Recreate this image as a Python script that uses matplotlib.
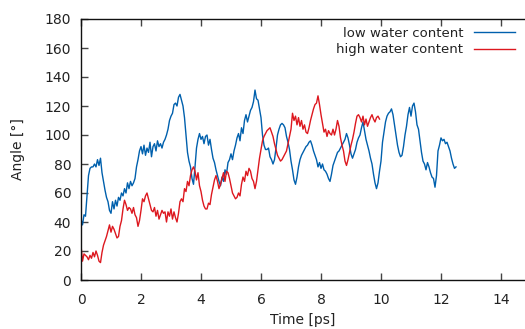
import numpy as np
import matplotlib
matplotlib.use("Agg")
import matplotlib.pyplot as plt

DT = 0.05  # sampling interval in ps

low_water = [
    42, 38, 45, 44, 58, 72, 77, 78, 78, 80, 78, 83, 79, 84, 74, 68, 62, 57, 54, 48,
    46, 54, 49, 55, 51, 57, 55, 60, 58, 63, 60, 67, 63, 68, 65, 67, 70, 78, 83, 89,
    92, 87, 93, 86, 91, 88, 95, 85, 92, 94, 89, 96, 92, 94, 91, 95, 97, 100, 104, 110,
    113, 115, 121, 122, 120, 126, 128, 124, 120, 112, 100, 88, 82, 78, 70, 66, 78, 91, 97, 101,
    97, 99, 94, 99, 100, 93, 97, 90, 84, 81, 76, 72, 68, 65, 71, 68, 76, 73, 81, 83,
    87, 83, 89, 93, 98, 101, 96, 105, 101, 110, 114, 109, 113, 117, 119, 123, 131, 125, 124, 118,
    112, 100, 93, 90, 90, 91, 85, 83, 80, 83, 91, 100, 104, 107, 108, 107, 105, 99, 95, 90,
    82, 76, 69, 66, 71, 78, 83, 86, 88, 90, 92, 93, 95, 96, 93, 89, 86, 83, 78, 81,
    77, 80, 76, 75, 73, 70, 68, 73, 79, 82, 85, 88, 89, 91, 93, 95, 97, 101, 98, 93,
    87, 84, 87, 90, 95, 98, 100, 105, 109, 103, 97, 93, 89, 84, 80, 73, 67, 63, 67, 75,
    82, 95, 102, 109, 113, 115, 116, 118, 114, 107, 100, 93, 88, 85, 86, 92, 100, 106, 114, 119,
    113, 120, 122, 116, 107, 104, 96, 88, 82, 80, 76, 81, 78, 74, 71, 70, 64, 72, 89, 93,
    98, 96, 97, 94, 95, 92, 89, 84, 80, 77, 78,
]

high_water = [
    24, 13, 18, 17, 16, 14, 17, 15, 19, 16, 20, 17, 13, 12, 19, 24, 27, 30, 34, 38,
    33, 37, 35, 32, 29, 30, 37, 41, 49, 55, 52, 48, 50, 49, 46, 50, 45, 43, 37, 41,
    48, 56, 54, 58, 60, 56, 52, 48, 47, 50, 44, 48, 42, 45, 48, 46, 47, 40, 47, 44,
    49, 42, 47, 43, 40, 46, 54, 56, 54, 63, 61, 68, 65, 72, 76, 78, 75, 69, 74, 65,
    61, 55, 51, 49, 49, 53, 52, 59, 64, 69, 72, 68, 63, 66, 70, 74, 68, 75, 74, 70,
    65, 60, 58, 56, 57, 60, 58, 66, 71, 68, 75, 72, 77, 75, 70, 68, 63, 68, 76, 84,
    90, 96, 99, 101, 103, 104, 105, 102, 99, 94, 90, 86, 84, 82, 83, 85, 87, 89, 94, 99,
    104, 115, 110, 113, 107, 112, 106, 110, 104, 107, 102, 101, 105, 110, 114, 118, 121, 122, 127, 121,
    114, 108, 102, 104, 99, 103, 101, 100, 104, 100, 104, 110, 106, 98, 93, 89, 82, 79, 83, 88,
    93, 97, 102, 108, 113, 114, 112, 109, 113, 107, 111, 106, 109, 112, 114, 111, 109, 112, 113, 111,
]

series_labels = ["low water content", "high water content"]
x_ticks = [0, 2, 4, 6, 8, 10, 12, 14]
y_ticks = [0, 20, 40, 60, 80, 100, 120, 140, 160, 180]

t_low = np.arange(len(low_water)) * DT
t_high = np.arange(len(high_water)) * DT

plt.rcParams['font.family'] = ['DejaVu Sans']
fig = plt.figure(figsize=(5.25, 3.29), dpi=100)
ax = fig.add_axes([81 / 525, 1 - 280 / 329, 1 - 81 / 525, (280 - 19) / 329])

ax.plot(t_low, low_water, color='#0060ad', lw=1.0, label=series_labels[0])
ax.plot(t_high, high_water, color='#dd181f', lw=1.0, label=series_labels[1])

ax.set_xlim(0, (525 - 81) / 30)
ax.set_ylim(0, 180)
ax.set_xticks(x_ticks)
ax.set_yticks(y_ticks)
ax.tick_params(axis='both', direction='in', length=5, width=1, color='#444444',
               labelsize=10, labelcolor='#222222')
ax.tick_params(axis='x', top=True, pad=9)
ax.tick_params(axis='y', right=False, pad=7)
ax.spines['right'].set_visible(False)
for s in ['left', 'bottom', 'top']:
    ax.spines[s].set_linewidth(1.0)
    ax.spines[s].set_color('#111111')

ax.set_xlabel('Time [ps]', fontsize=10, color='#222222', labelpad=5)
ax.set_ylabel('Angle [°]', fontsize=10, color='#222222', labelpad=14)

leg = ax.legend(loc='upper right', bbox_to_anchor=(0.995, 1.0), frameon=False,
                markerfirst=False, handlelength=3.1, handletextpad=0.8,
                fontsize=9.5, labelspacing=0.25, borderaxespad=0.2)
for txt in leg.get_texts():
    txt.set_color('#222222')

fig.savefig('out.png', dpi=100)
